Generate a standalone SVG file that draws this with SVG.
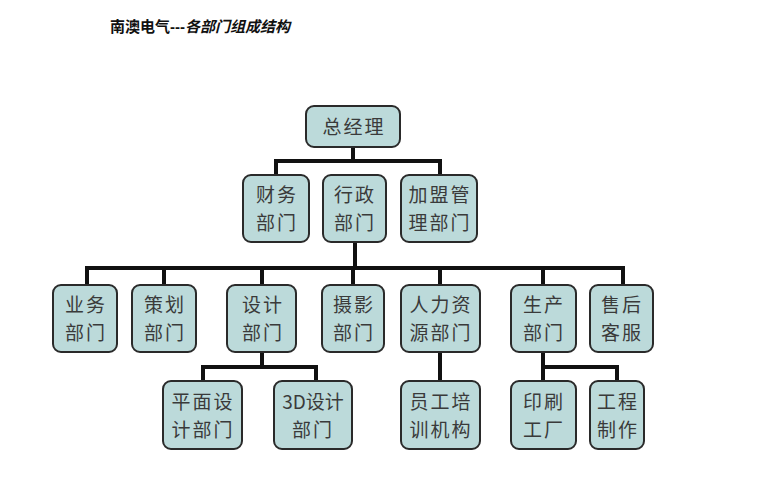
<svg xmlns="http://www.w3.org/2000/svg" width="772" height="502" viewBox="0 0 772 502">
<style>
.b{fill:#bcdada;stroke:#2a2a2a;stroke-width:2}
.t{font-family:"Noto Sans CJK SC",sans-serif;font-size:19px;fill:#3a3a3a;text-anchor:middle;letter-spacing:2px}
.c{fill:none;stroke:#111;stroke-width:4}
</style>
<rect width="772" height="502" fill="#fff"/>
<text x="110" y="32" style="font-family:'Liberation Sans','Noto Sans CJK SC',sans-serif;font-size:15px;font-weight:bold;fill:#111">南澳电气---<tspan font-style="italic">各部门组成结构</tspan></text>
<g id="connectors" class="c">
<path d="M353 147V161M276 175V161H440V175"/>
<path d="M355 242V268M87 285V268H623V285M164 268V285M262 268V285M353 268V285M440 268V285M543 268V285"/>
<path d="M262 352V367M203 381V367H316V381"/>
<path d="M440 352V381"/>
<path d="M543 352V381M543 367H617V381"/>
</g>
<g id="n0"><rect class="b" x="306" y="106" width="94" height="41" rx="8"/><text class="t" x="354" y="134">总经理</text></g>
<g id="n1"><rect class="b" x="243" y="175" width="66" height="67" rx="8"/><text class="t" x="277" y="202">财务</text><text class="t" x="277" y="230">部门</text></g>
<g id="n2"><rect class="b" x="323" y="175" width="63" height="67" rx="8"/><text class="t" x="355" y="202">行政</text><text class="t" x="355" y="230">部门</text></g>
<g id="n3"><rect class="b" x="401" y="175" width="76" height="67" rx="8"/><text class="t" x="440" y="202">加盟管</text><text class="t" x="440" y="230">理部门</text></g>
<g id="n4"><rect class="b" x="53" y="285" width="64" height="67" rx="8"/><text class="t" x="86" y="312">业务</text><text class="t" x="86" y="340">部门</text></g>
<g id="n5"><rect class="b" x="132" y="285" width="64" height="67" rx="8"/><text class="t" x="165" y="312">策划</text><text class="t" x="165" y="340">部门</text></g>
<g id="n6"><rect class="b" x="227" y="285" width="69" height="67" rx="8"/><text class="t" x="263" y="312">设计</text><text class="t" x="263" y="340">部门</text></g>
<g id="n7"><rect class="b" x="322" y="285" width="62" height="67" rx="8"/><text class="t" x="354" y="312">摄影</text><text class="t" x="354" y="340">部门</text></g>
<g id="n8"><rect class="b" x="401" y="285" width="79" height="67" rx="8"/><text class="t" x="441" y="312">人力资</text><text class="t" x="441" y="340">源部门</text></g>
<g id="n9"><rect class="b" x="511" y="285" width="65" height="67" rx="8"/><text class="t" x="544" y="312">生产</text><text class="t" x="544" y="340">部门</text></g>
<g id="n10"><rect class="b" x="590" y="285" width="63" height="67" rx="8"/><text class="t" x="622" y="312">售后</text><text class="t" x="622" y="340">客服</text></g>
<g id="n11"><rect class="b" x="163" y="381" width="79" height="68" rx="8"/><text class="t" x="203" y="409">平面设</text><text class="t" x="203" y="437">计部门</text></g>
<g id="n12"><rect class="b" x="274" y="381" width="78" height="68" rx="8"/><text class="t" x="313" y="409" style="letter-spacing:0">3D设计</text><text class="t" x="313" y="437">部门</text></g>
<g id="n13"><rect class="b" x="401" y="381" width="79" height="68" rx="8"/><text class="t" x="441" y="409">员工培</text><text class="t" x="441" y="437">训机构</text></g>
<g id="n14"><rect class="b" x="511" y="381" width="65" height="68" rx="8"/><text class="t" x="544" y="409">印刷</text><text class="t" x="544" y="437">工厂</text></g>
<g id="n15"><rect class="b" x="590" y="381" width="54" height="68" rx="8"/><text class="t" x="618" y="409">工程</text><text class="t" x="618" y="437">制作</text></g>
</svg>
